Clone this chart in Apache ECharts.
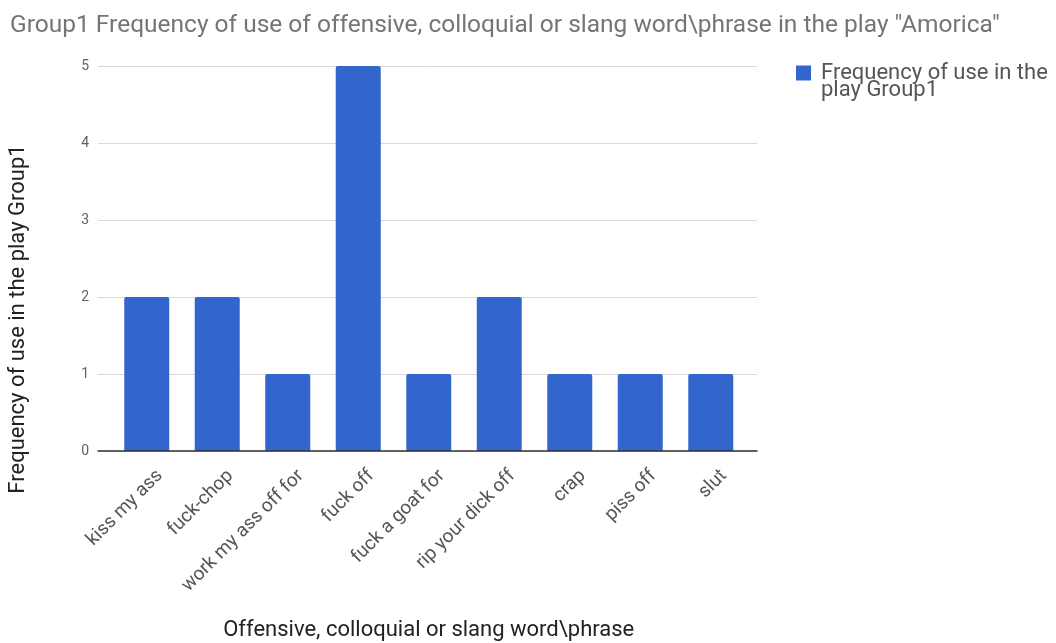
<!DOCTYPE html>
<html>
<head>
<meta charset="utf-8">
<script src="https://cdn.jsdelivr.net/npm/echarts@6/dist/echarts.min.js"></script>
<style>
  html, body { margin: 0; padding: 0; background: #fff; }
  #chart { width: 1056px; height: 643px; }
</style>
</head>
<body>
<div id="chart"></div>
<script>
// Words/phrases and how many times each is used
const categories = ['kiss my ass', 'fuck-chop', 'work my ass off for', 'fuck off', 'fuck a goat for', 'rip your dick off', 'crap', 'piss off', 'slut'];
const frequencies = [2, 2, 1, 5, 1, 2, 1, 1, 1];
const yMin = 0;
const yMax = 5;
const yStep = 1;

const titleText = 'Group1 Frequency of use of offensive, colloquial or slang word\\phrase in the play "Amorica"';
const seriesName = 'Frequency of use in the play Group1';
const legendLines = ['Frequency of use in the', 'play Group1'];
const xTitle = 'Offensive, colloquial or slang word\\phrase';
const yTitle = 'Frequency of use in the play Group1';

const FONT = 'Roboto, "Noto Sans", Arial, sans-serif';
const LEGEND_LH = 17;

const chart = echarts.init(document.getElementById('chart'), null, { renderer: 'canvas' });

chart.setOption({
  animation: false,
  textStyle: { fontFamily: FONT },
  title: {
    text: titleText,
    left: 5,
    top: 8,
    textStyle: { fontFamily: FONT, fontSize: 24.5, fontWeight: 'normal', color: '#757575' }
  },
  legend: {
    left: 791,
    top: 40,
    icon: 'rect',
    itemWidth: 15,
    itemHeight: 15,
    itemGap: 8,
    // a leading empty line keeps the first text line level with the swatch
    formatter: () => '\n' + legendLines.join('\n'),
    textStyle: { fontFamily: FONT, fontSize: 22, lineHeight: LEGEND_LH, color: '#555', padding: [0, 0, 0, 5] },
    data: [seriesName]
  },
  grid: [
    // frame: gridlines and baseline
    { left: 98, right: 299, top: 66, bottom: 192, outerBoundsMode: 'none' },
    // bars
    { left: 111.5, right: 310, top: 66, bottom: 192, outerBoundsMode: 'none' }
  ],
  xAxis: [
    {
      gridIndex: 0, type: 'value', min: 0, max: 1, z: 5,
      axisLine: { show: true, lineStyle: { color: '#333', width: 1.5 } },
      axisTick: { show: false }, axisLabel: { show: false }, splitLine: { show: false }
    },
    {
      gridIndex: 1, type: 'category', data: categories,
      axisLine: { show: false }, axisTick: { show: false },
      axisLabel: {
        interval: 0, rotate: 45, margin: 9, fontSize: 19, color: '#555', fontFamily: FONT,
        verticalAlign: 'top', padding: [9, 0, 0, 0]
      },
      name: xTitle, nameLocation: 'middle', nameGap: 168,
      nameTextStyle: { fontSize: 22, color: '#222', fontFamily: FONT }
    }
  ],
  yAxis: [
    {
      gridIndex: 0, type: 'value', min: yMin, max: yMax, interval: yStep,
      axisLine: { show: false }, axisTick: { show: false },
      axisLabel: { margin: 9, fontSize: 14, color: '#616161', fontFamily: FONT },
      splitLine: { lineStyle: { color: '#d9d9d9', width: 1 } }
    },
    {
      gridIndex: 1, type: 'value', min: yMin, max: yMax, interval: yStep, show: false,
      splitLine: { show: false }
    }
  ],
  graphic: [
    {
      type: 'text', x: 18, y: 319, rotation: Math.PI / 2,
      style: { text: yTitle, fontFamily: FONT, fontSize: 22, fill: '#222', align: 'center', verticalAlign: 'middle' }
    }
  ],
  series: [
    {
      name: seriesName,
      type: 'bar',
      xAxisIndex: 1,
      yAxisIndex: 1,
      data: frequencies,
      barWidth: 45,
      itemStyle: { color: '#3366cc', borderRadius: [2, 2, 0, 0] }
    }
  ]
});
</script>
</body>
</html>
